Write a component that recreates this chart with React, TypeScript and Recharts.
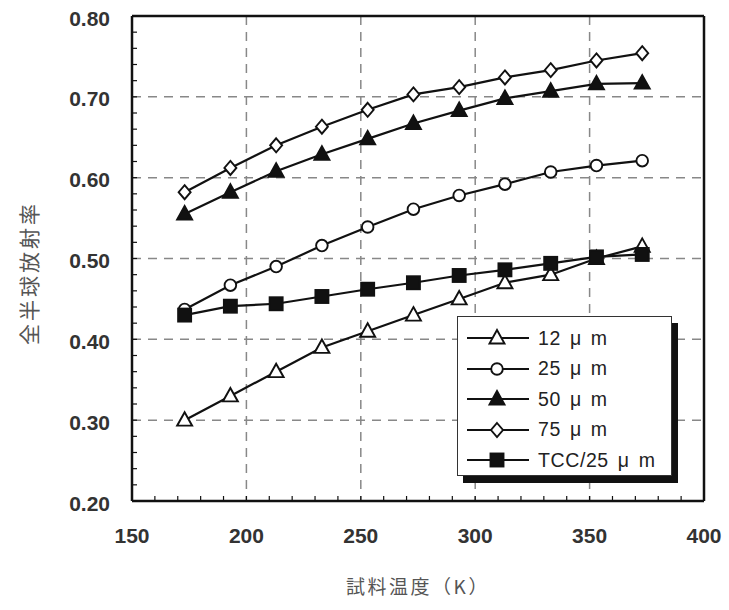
import { CartesianGrid, Legend, Line, LineChart, XAxis, YAxis } from "recharts";

// 試料温度 (K) — measured at -100 °C … +100 °C in 20 °C steps
const temps = [173, 193, 213, 233, 253, 273, 293, 313, 333, 353, 373];

// 全半球放射率
const um12 = [0.3, 0.33, 0.36, 0.39, 0.41, 0.43, 0.45, 0.47, 0.48, 0.5, 0.515];
const um25 = [0.437, 0.467, 0.49, 0.516, 0.539, 0.561, 0.578, 0.592, 0.607, 0.615, 0.621];
const um50 = [0.555, 0.582, 0.608, 0.629, 0.648, 0.667, 0.683, 0.698, 0.707, 0.716, 0.717];
const um75 = [0.582, 0.612, 0.64, 0.663, 0.684, 0.703, 0.712, 0.724, 0.733, 0.745, 0.754];
const tcc25 = [0.43, 0.441, 0.444, 0.453, 0.462, 0.47, 0.479, 0.486, 0.494, 0.502, 0.505];

const xTicks = [150, 200, 250, 300, 350, 400];
const xMinorTicks = [160, 170, 180, 190, 210, 220, 230, 240, 260, 270, 280, 290, 310, 320, 330, 340, 360, 370, 380, 390];
const yTicks = [0.2, 0.3, 0.4, 0.5, 0.6, 0.7, 0.8];
const yMinorTicks = [
	0.22, 0.24, 0.26, 0.28, 0.32, 0.34, 0.36, 0.38, 0.42, 0.44, 0.46, 0.48, 0.52, 0.54, 0.56, 0.58, 0.62, 0.64, 0.66,
	0.68, 0.72, 0.74, 0.76, 0.78,
];

type Shape = "triangle" | "circle" | "diamond" | "square";

interface SeriesDef {
	key: string;
	name: string;
	shape: Shape;
	filled: boolean;
	values: number[];
}

const series: SeriesDef[] = [
	{ key: "um12", name: "12 μ m", shape: "triangle", filled: false, values: um12 },
	{ key: "um25", name: "25 μ m", shape: "circle", filled: false, values: um25 },
	{ key: "um50", name: "50 μ m", shape: "triangle", filled: true, values: um50 },
	{ key: "um75", name: "75 μ m", shape: "diamond", filled: false, values: um75 },
	{ key: "tcc25", name: "TCC/25 μ m", shape: "square", filled: true, values: tcc25 },
];

const data = temps.map((t, i) => {
	const row: Record<string, number> = { t };
	for (const s of series) row[s.key] = s.values[i];
	return row;
});

// every tick gets a short inward mark; only the majors get a label
const xAllTicks = [...xTicks, ...xMinorTicks].sort((a, b) => a - b);
const yAllTicks = [...yTicks, ...yMinorTicks].sort((a, b) => a - b);
const isMajor = (list: number[], v: number) => list.some((m) => Math.abs(m - v) < 1e-6);

const INK = "#111";

function Marker({ cx, cy, shape, filled }: { cx: number; cy: number; shape: Shape; filled: boolean }) {
	const fill = filled ? INK : "#fff";
	const common = { fill, stroke: INK, strokeWidth: 1.9 };
	if (shape === "triangle") {
		return <polygon points={`${cx},${cy - 8} ${cx + 7.5},${cy + 5.5} ${cx - 7.5},${cy + 5.5}`} {...common} />;
	}
	if (shape === "circle") return <circle cx={cx} cy={cy} r={5.8} {...common} />;
	if (shape === "diamond") {
		return <polygon points={`${cx},${cy - 7} ${cx + 6},${cy} ${cx},${cy + 7} ${cx - 6},${cy}`} {...common} />;
	}
	return <rect x={cx - 6.5} y={cy - 6.5} width={13} height={13} {...common} />;
}

function LegendBox() {
	return (
		<div
			style={{
				width: 215,
				height: 160,
				boxSizing: "border-box",
				background: "#fff",
				border: "1.5px solid #333",
				boxShadow: "6px 7px 0 #111",
				paddingTop: 6,
				fontFamily: "'Liberation Sans', Arial, 'Noto Sans CJK JP', sans-serif",
				fontSize: 19.5,
				letterSpacing: 0.6,
				wordSpacing: 3,
				color: "#222",
			}}
		>
			{series.map((s) => (
				<div key={s.key} style={{ display: "flex", alignItems: "center", height: 30.5, paddingLeft: 8 }}>
					<svg width={64} height={20} style={{ display: "block" }}>
						<line x1={1} y1={10} x2={63} y2={10} stroke={INK} strokeWidth={2.2} />
						<Marker cx={31} cy={10} shape={s.shape} filled={s.filled} />
					</svg>
					<span style={{ marginLeft: 8, whiteSpace: "nowrap" }}>{s.name}</span>
				</div>
			))}
		</div>
	);
}

const tickFont = {
	fontSize: 21,
	fill: "#333",
	fontFamily: "'Liberation Sans', Arial, sans-serif",
	fontWeight: "bold" as const,
};

function XTick(props: any) {
	const v = props.payload.value as number;
	if (!isMajor(xTicks, v)) return <g />;
	return (
		<text x={props.x} y={528} textAnchor="middle" dominantBaseline="hanging" {...tickFont}>
			{v}
		</text>
	);
}

function YTick(props: any) {
	const v = props.payload.value as number;
	if (!isMajor(yTicks, v)) return <g />;
	return (
		<text x={110} y={props.y + 2} textAnchor="end" dominantBaseline="central" {...tickFont}>
			{v.toFixed(2)}
		</text>
	);
}

const labelFont = "'Noto Sans CJK JP', 'Noto Sans CJK SC', sans-serif";

function XTitle(props: any) {
	const vb = props.viewBox;
	return (
		<text
			x={vb.x + vb.width / 2}
			y={594}
			textAnchor="middle"
			fontFamily={labelFont}
			fontSize={19}
			letterSpacing={2.5}
			fill="#555"
		>
			試料温度（K）
		</text>
	);
}

function YTitle() {
	return (
		<text
			x={28}
			y={273}
			textAnchor="middle"
			dominantBaseline="central"
			transform="rotate(-90, 28, 273)"
			fontFamily={labelFont}
			fontSize={21}
			letterSpacing={3}
			fill="#555"
		>
			全半球放射率
		</text>
	);
}

export default function App() {
	return (
		<div style={{ position: "absolute", left: 0, top: 0, width: 729, height: 610, background: "#fff" }}>
			<LineChart width={729} height={610} data={data} margin={{ top: 15, right: 24, left: 0, bottom: 49 }}>
				<CartesianGrid
					stroke="#888"
					strokeWidth={1.5}
					strokeDasharray="9 7"
					horizontalValues={yTicks}
					verticalValues={xTicks}
				/>
				<XAxis
					type="number"
					dataKey="t"
					domain={[150, 400]}
					ticks={xAllTicks}
					interval={0}
					height={60}
					tick={XTick}
					tickSize={-5}
					tickLine={{ stroke: INK, strokeWidth: 1.2 }}
					axisLine={{ stroke: INK, strokeWidth: 2.5 }}
					label={XTitle}
				/>
				<YAxis
					type="number"
					domain={[0.2, 0.8]}
					ticks={yAllTicks}
					interval={0}
					width={132}
					tick={YTick}
					tickSize={-5}
					tickLine={{ stroke: INK, strokeWidth: 1.2 }}
					axisLine={{ stroke: INK, strokeWidth: 2.5 }}
					label={YTitle}
				/>
				{/* top + right edges of the frame */}
				<XAxis
					xAxisId="xt"
					orientation="top"
					type="number"
					domain={[150, 400]}
					height={1}
					tick={false}
					tickLine={false}
					axisLine={{ stroke: INK, strokeWidth: 2.5 }}
				/>
				<YAxis
					yAxisId="yr"
					orientation="right"
					type="number"
					domain={[0.2, 0.8]}
					width={1}
					tick={false}
					tickLine={false}
					axisLine={{ stroke: INK, strokeWidth: 2.5 }}
				/>
				{series.map((s) => (
					<Line
						key={s.key}
						dataKey={s.key}
						name={s.name}
						type="linear"
						stroke={INK}
						strokeWidth={2.2}
						isAnimationActive={false}
						dot={(p: any) => (
							<Marker key={`${s.key}-${p.index}`} cx={p.cx} cy={p.cy} shape={s.shape} filled={s.filled} />
						)}
						activeDot={false}
					/>
				))}
				<Legend
					layout="vertical"
					align="center"
					verticalAlign="middle"
					content={() => <LegendBox />}
					wrapperStyle={{ left: 457, top: 316, width: "auto" }}
				/>
			</LineChart>
		</div>
	);
}
